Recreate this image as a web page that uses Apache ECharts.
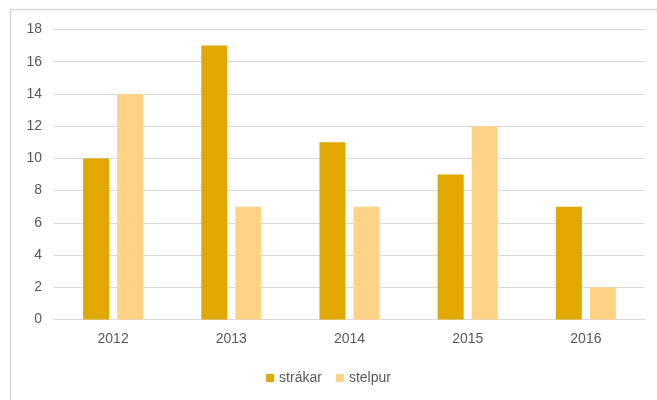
<!DOCTYPE html>
<html><head><meta charset="utf-8">
<script src="https://cdn.jsdelivr.net/npm/echarts@6/dist/echarts.min.js"></script>
<style>html,body{margin:0;padding:0;background:#fff}#c{width:657px;height:400px}</style>
</head><body><div id="c"></div>
<script>
const categories = ['2012','2013','2014','2015','2016'];
const strakar = [10, 17, 11, 9, 7];
const stelpur = [14, 7, 7, 12, 2];
const yTicks = {min: 0, max: 18, interval: 2};

const chart = echarts.init(document.getElementById('c'), null, {renderer: 'canvas'});
const font = "'Liberation Sans', 'DejaVu Sans', sans-serif";
chart.setOption({
  animation: false,
  backgroundColor: '#fff',
  textStyle: {fontFamily: font},
  graphic: [{type: 'rect', shape: {x: 10.5, y: 9.5, width: 700, height: 450}, style: {fill: 'none', stroke: '#d9d9d9', lineWidth: 1.5}, silent: true}],
  grid: {left: 54, right: 12, top: 29.5, bottom: 80.5, containLabel: false},
  legend: {
    bottom: 10, left: 'center', itemWidth: 8, itemHeight: 8, itemGap: 14, icon: 'rect',
    textStyle: {color: '#595959', fontSize: 14, fontFamily: font},
    data: ['strákar', 'stelpur']
  },
  xAxis: {
    type: 'category', data: categories,
    axisLine: {lineStyle: {color: '#d9d9d9'}}, axisTick: {show: false},
    axisLabel: {color: '#595959', fontSize: 14, margin: 13}
  },
  yAxis: {
    type: 'value', min: yTicks.min, max: yTicks.max, interval: yTicks.interval,
    axisLine: {show: false}, axisTick: {show: false},
    axisLabel: {color: '#595959', fontSize: 14, margin: 12},
    splitLine: {lineStyle: {color: '#d9d9d9'}}
  },
  series: [
    {name: 'strákar', type: 'bar', data: strakar, barWidth: 26, barGap: '31%', itemStyle: {color: '#E0A800'}},
    {name: 'stelpur', type: 'bar', data: stelpur, barWidth: 26, itemStyle: {color: '#FFD385'}}
  ]
});
</script></body></html>
